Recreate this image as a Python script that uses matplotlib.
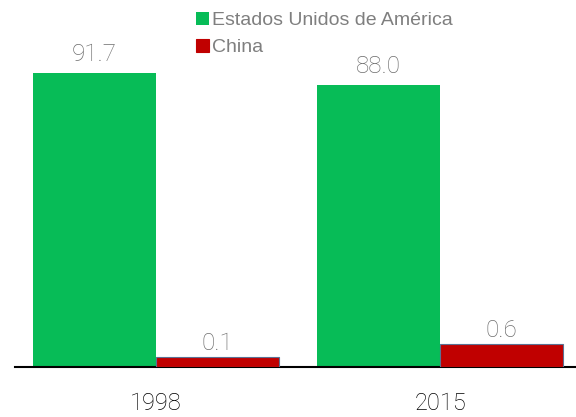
import matplotlib.pyplot as plt
import numpy as np

years = ["1998", "2015"]
usa = [91.7, 88.0]
china = [0.1, 0.6]
usa_label = "Estados Unidos de América"
china_label = "China"

green = "#07BC57"
red = "#C00000"
label_grey = "#6E6E6E"

fig = plt.figure(figsize=(5.76, 4.17), dpi=100)
ax = fig.add_axes([15 / 576, 50 / 417, 561 / 576, 358.7 / 417])
ax2 = ax.twinx()

x = np.arange(len(years))
w = 123 / 284

# China values sit on their own (unshown) scale, as in the source chart
c_low = -0.3
ax.set_ylim(0, 358.7 / 3.206)
ax2.set_ylim(c_low, c_low + 358.7 / 26)

b1 = ax.bar(x - w / 2, usa, w, color=green, label=usa_label, zorder=2)
b2 = ax2.bar(x + w / 2, np.array(china) - c_low, w, bottom=c_low, color=red,
             edgecolor="#5B7193", linewidth=0.8, label=china_label, zorder=2)

for xi, v in zip(x - w / 2, usa):
    ax.annotate(f"{v:.1f}", (xi, v), xytext=(0, 5), textcoords="offset points",
                ha="center", va="bottom", fontsize=17.5, color=label_grey,
                family="Roboto", fontweight="light")
for xi, v in zip(x + w / 2, china):
    ax2.annotate(f"{v:.1f}", (xi, v), xytext=(0, 1.5), textcoords="offset points",
                 ha="center", va="bottom", fontsize=17.5, color=label_grey,
                 family="Roboto", fontweight="light")

ax.set_xlim(-141 / 284, 1 + 136 / 284)
ax.set_xticks(x)
ax.set_xticklabels(years, fontsize=17, family="Roboto", fontweight="light")
ax.tick_params(axis="x", length=0, pad=18)
ax.set_yticks([])
ax2.set_yticks([])
for a in (ax, ax2):
    for side in ("top", "right", "left"):
        a.spines[side].set_visible(False)
ax2.spines["bottom"].set_visible(False)
ax.spines["bottom"].set_linewidth(1.5)
ax.spines["bottom"].set_color("black")

leg = fig.legend(handles=[b1, b2], loc="upper left", bbox_to_anchor=(184 / 576, 1.0),
                 frameon=False, fontsize=14, handlelength=0.68, handleheight=0.68,
                 handletextpad=0.18, labelspacing=0.5, borderaxespad=0.2)
for t in leg.get_texts():
    t.set_color("#7F7F7F")
    t.set_family("Liberation Sans")
leg.legend_handles[1].set_edgecolor(red)

fig.savefig("out.png", dpi=100)
